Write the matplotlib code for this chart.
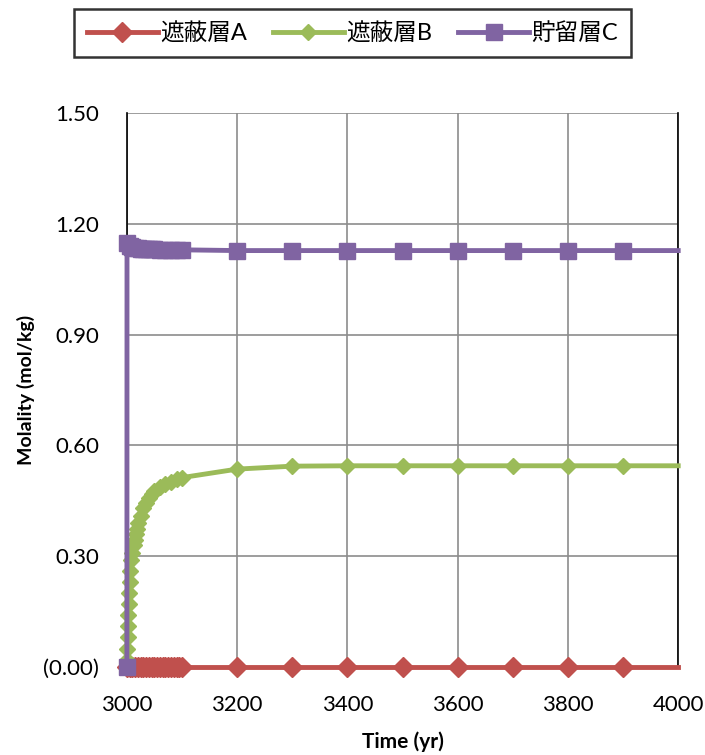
import matplotlib.pyplot as plt

plt.rcParams['font.family'] = ['Lato', 'Noto Sans CJK JP', 'DejaVu Sans']

# time points (yr)
t_late = [3200, 3300, 3400, 3500, 3600, 3700, 3800, 3900, 4000]

t_a = [3000, 3005, 3010, 3015, 3020, 3025, 3030, 3035, 3040, 3045, 3050,
       3055, 3060, 3065, 3070, 3075, 3080, 3085, 3090, 3095, 3100] + t_late
shield_a = [0.0] * len(t_a)

t_b = [3000, 3000.5, 3001, 3001.5, 3002, 3002.5, 3003, 3004, 3005, 3006,
       3008, 3010, 3012, 3014, 3016, 3018, 3020, 3025, 3030, 3035, 3040,
       3045, 3050, 3060, 3070, 3080, 3090, 3100] + t_late
shield_b = [0.0, 0.02, 0.05, 0.08, 0.11, 0.14, 0.17, 0.20, 0.23, 0.26,
            0.29, 0.31, 0.33, 0.345, 0.36, 0.375, 0.39, 0.41, 0.43, 0.445, 0.458,
            0.468, 0.476, 0.487, 0.495, 0.502, 0.508, 0.513,
            0.536, 0.544, 0.545, 0.545, 0.545, 0.545, 0.545, 0.545, 0.545]

t_c = [3000, 3000.2, 3005, 3010, 3015, 3020, 3025, 3030, 3035, 3040, 3045,
       3050, 3060, 3070, 3080, 3090, 3100] + t_late
reservoir_c = [0.0, 1.148, 1.14, 1.137, 1.135, 1.134, 1.133, 1.132, 1.132,
               1.131, 1.131, 1.131, 1.130, 1.130, 1.130, 1.130, 1.130,
               1.128, 1.128, 1.128, 1.128, 1.128, 1.128, 1.128, 1.128, 1.128]

labels = ['遮蔽層A', '遮蔽層B', '貯留層C']
colors = ['#C0504D', '#9BBB59', '#8064A2']

fig = plt.figure(figsize=(7.05, 7.55), dpi=100)
ax = fig.add_axes([0.180, 0.1166, 0.782, 0.7334])

ax.plot(t_a, shield_a, color=colors[0], lw=3.5, marker='D', ms=10,
        markevery=list(range(len(t_a) - 1)), label=labels[0], clip_on=False, zorder=3)
ax.plot(t_b, shield_b, color=colors[1], lw=3.5, marker='D', ms=8,
        markevery=list(range(len(t_b) - 1)), label=labels[1], clip_on=False, zorder=4)
ax.plot(t_c, reservoir_c, color=colors[2], lw=3.5, marker='s', ms=11,
        markevery=list(range(len(t_c) - 1)), label=labels[2], clip_on=False, zorder=5)

ax.set_xlim(3000, 4000)
ax.set_ylim(0, 1.5)
ax.set_xticks(range(3000, 4001, 200))
ax.set_yticks([0, 0.3, 0.6, 0.9, 1.2, 1.5])
ax.set_yticklabels(['(0.00)', '0.30', '0.60', '0.90', '1.20', '1.50'])
ax.tick_params(length=0, labelsize=16, pad=20)
ax.grid(True, color='#8c8c8c', lw=1.2)
ax.set_axisbelow(True)
ax.spines['top'].set_visible(False)
for s in ['left', 'bottom', 'right']:
    ax.spines[s].set_color('black')
    ax.spines[s].set_linewidth(1.2)

ax.set_xlabel('Time (yr)', fontsize=15, fontweight='bold', labelpad=12)
ax.set_ylabel('Molality (mol/kg)', fontsize=14, fontweight='bold', labelpad=6)

leg = fig.legend(loc='center', bbox_to_anchor=(0.50, 0.956), ncol=3,
                 fontsize=17, frameon=True, fancybox=False, edgecolor='black',
                 handlelength=3.0, columnspacing=1.1, handletextpad=0.1,
                 borderpad=0.55, borderaxespad=0)
leg.get_frame().set_linewidth(1.8)

fig.savefig('out.png', dpi=100)
